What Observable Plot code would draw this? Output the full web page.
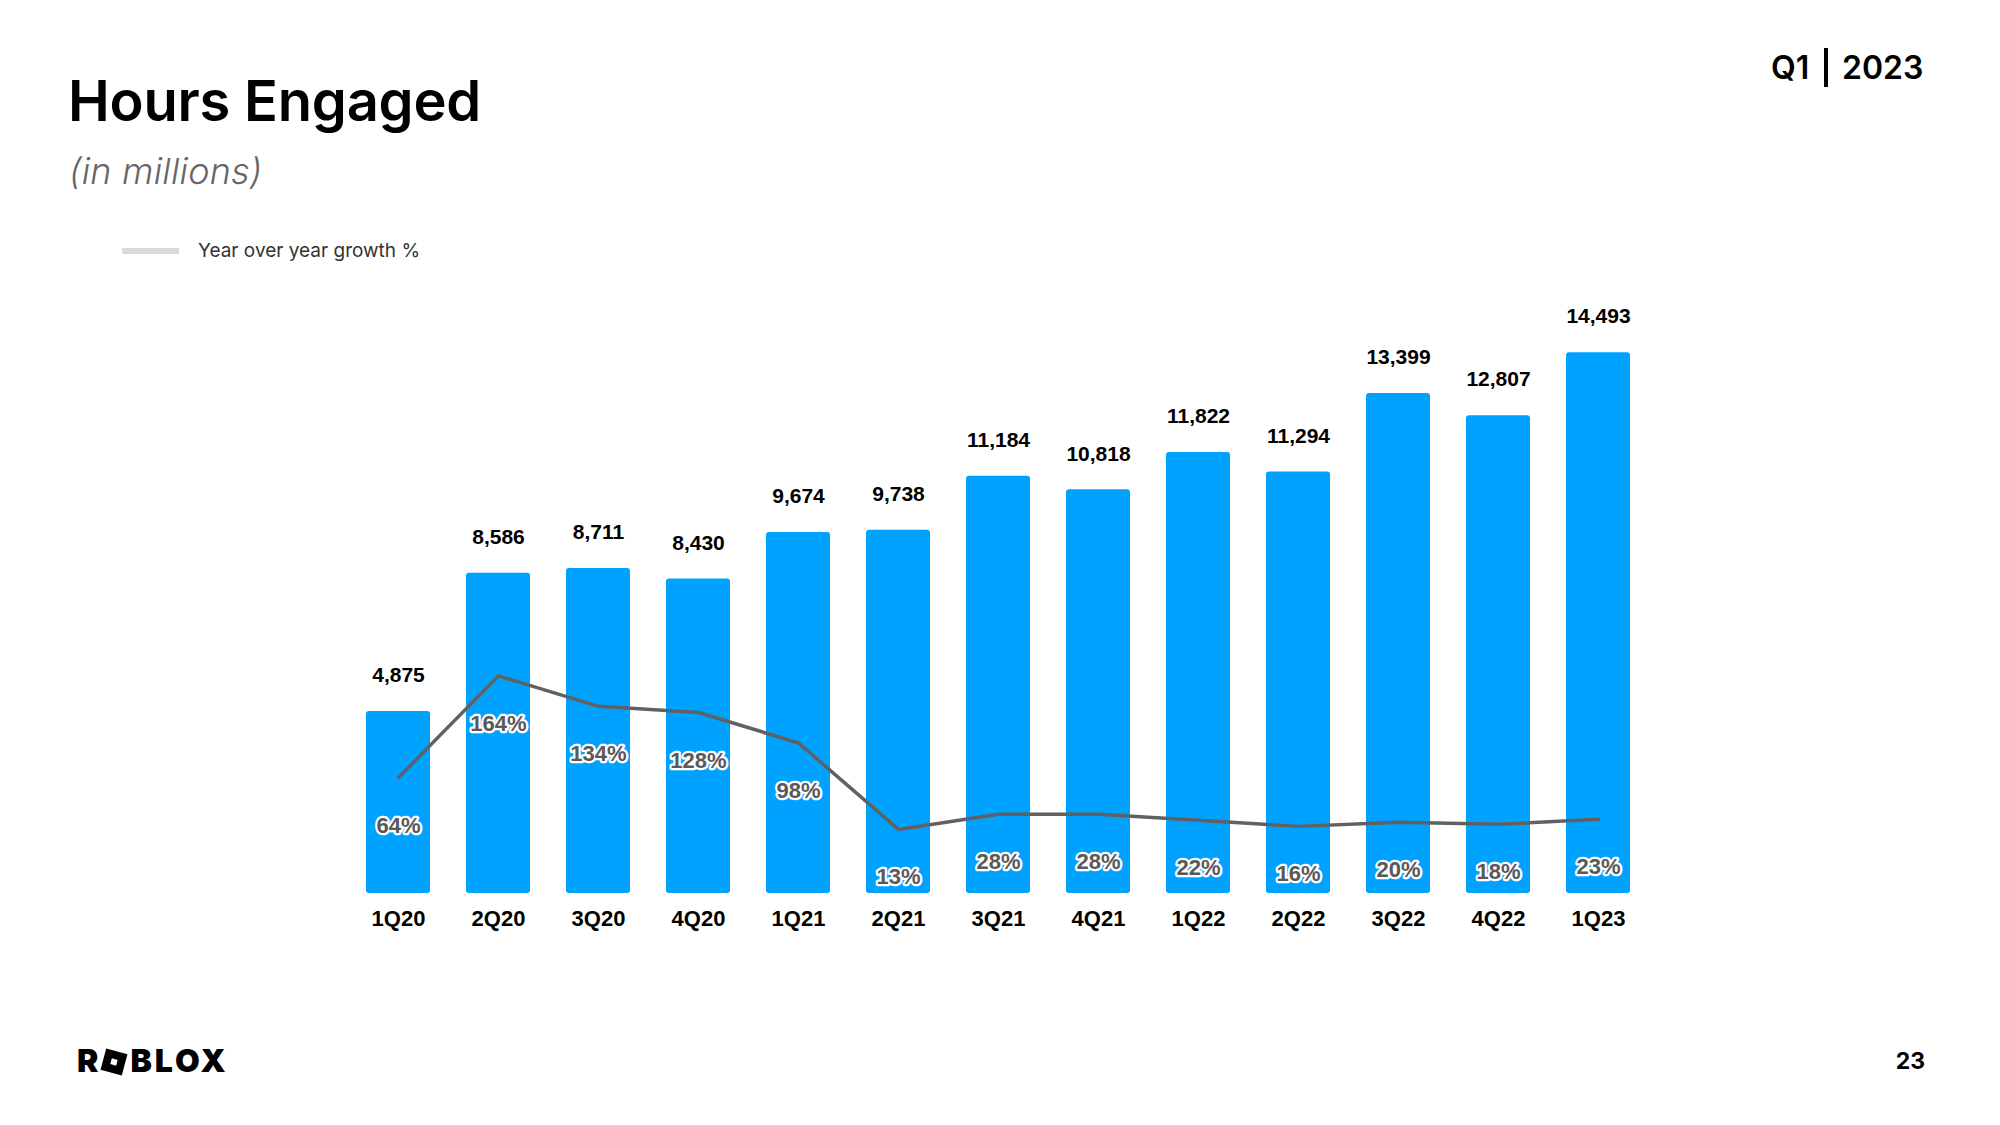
<!DOCTYPE html>
<html><head><meta charset="utf-8">
<script src="https://cdn.jsdelivr.net/npm/d3@7"></script>
<script src="https://cdn.jsdelivr.net/npm/@observablehq/plot@0.6"></script>
<style>
html,body{margin:0;padding:0;background:#fff;}
#page{position:relative;width:2000px;height:1125px;overflow:hidden;font-family:Inter,"Noto Sans",sans-serif;}
.abs{position:absolute;white-space:nowrap;}
#title{left:68px;top:73px;font-size:56px;line-height:56px;font-weight:600;color:#000;letter-spacing:-0.2px;}
#subtitle{left:69px;top:153px;font-size:36px;line-height:36px;font-weight:300;font-style:italic;color:#666;letter-spacing:0.2px;}
#legline{left:122px;top:248px;width:57px;height:6px;background:#d9d9d9;}
#legtext{left:198px;top:241px;font-size:19px;line-height:19px;font-weight:400;color:#333;}
.q{top:52px;font-size:32px;line-height:32px;font-weight:600;color:#000;}
#qbar{left:1824px;top:48px;width:4px;height:39px;background:#000;}
#logo{left:77px;top:1045px;font-size:32px;line-height:32px;font-weight:900;color:#000;letter-spacing:3px;}
#logo .sq{display:inline-block;position:relative;width:22px;height:22px;background:#000;transform:rotate(15deg);margin:0 5px 0 2px;vertical-align:-1px;}
#logo .sq i{position:absolute;left:8px;top:8px;width:6px;height:6px;background:#fff;}
#pnum{right:75px;top:1050px;font-size:23px;line-height:23px;font-weight:700;color:#000;}
#chart,#overlay{position:absolute;left:0;top:0;}
</style>
</head><body>
<div id="page">
  <div id="chart"></div>
  <div id="overlay"></div>
  <div class="abs" id="title">Hours Engaged</div>
  <div class="abs" id="subtitle">(in millions)</div>
  <div class="abs" id="legline"></div>
  <div class="abs" id="legtext">Year over year growth %</div>
  <div class="abs q" style="left:1771px">Q1</div>
  <div class="abs" id="qbar"></div>
  <div class="abs q" style="left:1842px">2023</div>
  <div class="abs" id="logo">R<span class="sq"><i></i></span>BLOX</div>
  <div class="abs" id="pnum">23</div>
</div>
<script>
const quarters = ["1Q20","2Q20","3Q20","4Q20","1Q21","2Q21","3Q21","4Q21","1Q22","2Q22","3Q22","4Q22","1Q23"];
const hours = [4875, 8586, 8711, 8430, 9674, 9738, 11184, 10818, 11822, 11294, 13399, 12807, 14493];
const growth = [64, 164, 134, 128, 98, 13, 28, 28, 22, 16, 20, 18, 23];

const data = quarters.map((q, i) => ({q, hours: hours[i], growth: growth[i]}));
const fmt = d3.format(",");
const labelFont = "'Liberation Sans', Arial, sans-serif";

const common = {
  width: 2000, height: 1125,
  marginTop: 296, marginBottom: 232, marginLeft: 348, marginRight: 352,
  x: {domain: quarters, paddingInner: 0.36, paddingOuter: 0.18, axis: null}
};

const chart = Plot.plot({
  ...common,
  style: {background: "transparent", overflow: "visible"},
  y: {domain: [0, 16000], axis: null},
  marks: [
    Plot.barY(data, {x: "q", y: "hours", fill: "#00A2FF", rx: 3}),
    Plot.text(data, {x: "q", y: "hours", text: d => fmt(d.hours), dy: -36, lineAnchor: "middle",
      fontSize: 21, fontWeight: "bold", fill: "#000", fontFamily: labelFont}),
    Plot.axisX({tickSize: 0, tickPadding: 17, fontSize: 22, fontWeight: "bold", fill: "#000", fontFamily: labelFont, label: null})
  ]
});
document.getElementById("chart").appendChild(chart);

const overlay = Plot.plot({
  ...common,
  style: {background: "transparent", overflow: "visible"},
  y: {domain: [-50, 537], axis: null},
  marks: [
    Plot.line(data, {x: "q", y: "growth", stroke: "#616161", strokeWidth: 3.5}),
    Plot.text(data, {x: "q", y: "growth", text: d => d.growth + "%", dy: 48, lineAnchor: "middle",
      fontSize: 22, fontWeight: "bold", fill: "#595959", stroke: "#fff", strokeWidth: 4.5, paintOrder: "stroke",
      fontFamily: labelFont})
  ]
});
document.getElementById("overlay").appendChild(overlay);
</script>
</body></html>
